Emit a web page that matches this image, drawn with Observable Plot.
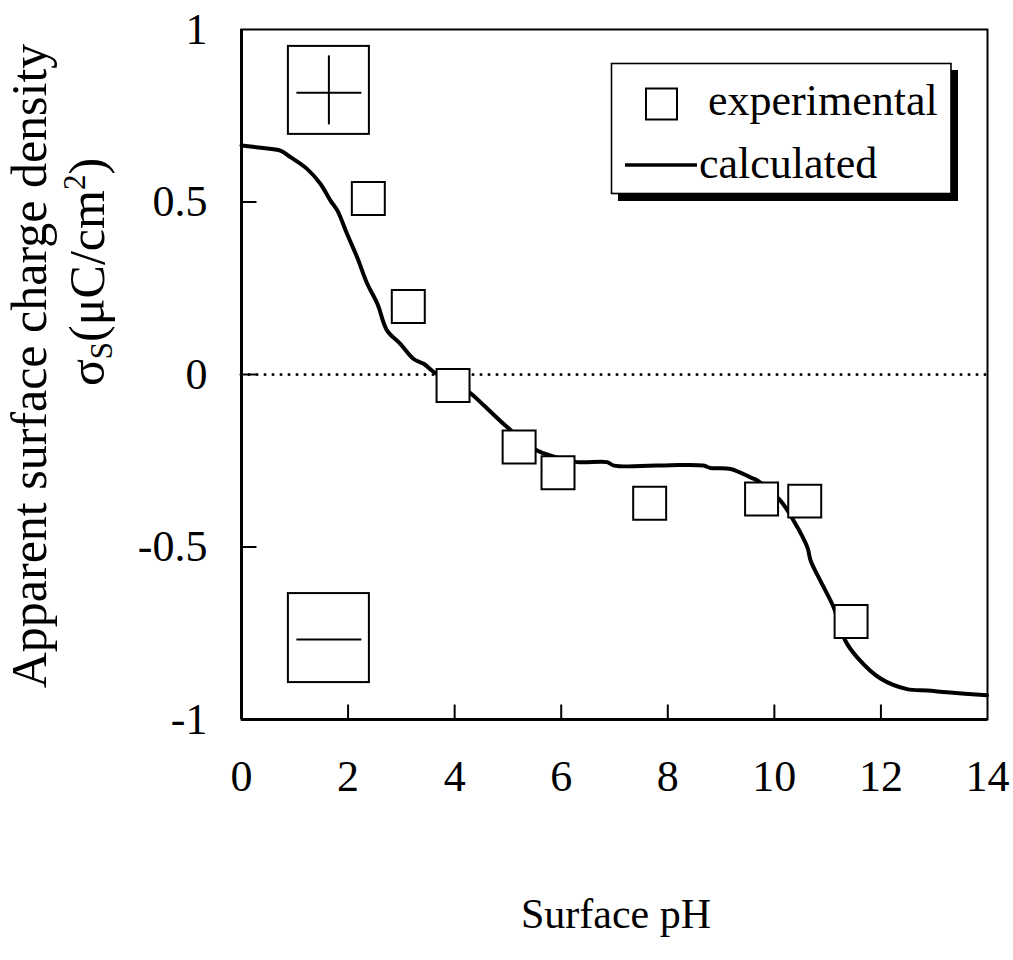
<!DOCTYPE html>
<html><head><meta charset="utf-8">
<script src="https://cdn.jsdelivr.net/npm/d3@7"></script>
<script src="https://cdn.jsdelivr.net/npm/@observablehq/plot@0.6"></script>
<style>
body{margin:0;background:#fff}
svg{font-family:"Liberation Serif","Times New Roman",serif}
</style>
</head><body><div id="chart"></div>
<script>
// Experimental points (surface pH, apparent surface charge density)
const expPH    = [2.38, 3.13, 3.97, 5.21, 5.94, 7.66, 9.76, 10.57, 11.44];
const expSigma = [0.51, 0.197, -0.032, -0.21, -0.285, -0.373, -0.361, -0.367, -0.716];

// Calculated curve
const calcPH    = [0, 0.36, 0.73, 0.92, 1.23, 1.48, 1.67, 1.80, 1.98, 2.17, 2.36, 2.55, 2.73, 2.98, 3.23, 3.42, 3.61,
                   4.27, 4.55, 4.99, 5.55, 5.86, 6.30, 6.86, 6.99, 8.24, 8.67, 8.80, 9.18, 9.55, 9.68, 10.11, 10.36,
                   10.62, 10.68, 10.86, 11.11, 11.33, 11.55, 12.0, 12.49, 12.87, 13.24, 13.99];
const calcSigma = [0.664, 0.657, 0.649, 0.630, 0.596, 0.553, 0.504, 0.475, 0.408, 0.340, 0.263, 0.205, 0.128, 0.089, 0.045, 0.031, 0.007,
                   -0.051, -0.090, -0.153, -0.220, -0.238, -0.254, -0.254, -0.264, -0.262, -0.264, -0.271, -0.274, -0.298, -0.307, -0.365, -0.423,
                   -0.501, -0.539, -0.597, -0.674, -0.771, -0.819, -0.882, -0.912, -0.916, -0.921, -0.930];

// Axis ticks and labels
const xTicks = [0, 2, 4, 6, 8, 10, 12, 14];
const xTickLabels = ["0", "2", "4", "6", "8", "10", "12", "14"];
const yTicks = [-1, -0.5, 0, 0.5, 1];
const yTickLabels = ["-1", "-0.5", "0", "0.5", "1"];

const xTitle = "Surface pH";
const yTitle1 = "Apparent surface charge density";
const legendLabels = ["experimental", "calculated"];

// Sign annotation boxes (data units)
const signBoxX1 = [0.88, 0.88];
const signBoxX2 = [2.40, 2.40];
const signBoxY1 = [0.696, -0.893];
const signBoxY2 = [0.951, -0.635];
// sign strokes: "+" horizontal, "+" vertical, "−" horizontal
const signLineX1 = [1.03, 1.64, 1.03];
const signLineX2 = [2.25, 1.64, 2.25];
const signLineY1 = [0.817, 0.725, -0.768];
const signLineY2 = [0.817, 0.925, -0.768];

const expData = expPH.map((x, i) => ({x, y: expSigma[i]}));
const calcData = calcPH.map((x, i) => ({x, y: calcSigma[i]}));
const boxes = signBoxX1.map((_, i) => ({x1: signBoxX1[i], x2: signBoxX2[i], y1: signBoxY1[i], y2: signBoxY2[i]}));
const signLines = signLineX1.map((_, i) => ({x1: signLineX1[i], x2: signLineX2[i], y1: signLineY1[i], y2: signLineY2[i]}));

const TICK = 15;
const tickUp = {draw(ctx) { ctx.moveTo(0, 0); ctx.lineTo(0, -TICK); }};
const tickRight = {draw(ctx) { ctx.moveTo(0, 0); ctx.lineTo(TICK, 0); }};

const W = 1013, H = 960;
const plot = Plot.plot({
  width: W, height: H,
  marginLeft: 241, marginRight: 26, marginTop: 29, marginBottom: 241,
  style: {fontFamily: "'Liberation Serif','Times New Roman',serif", background: "white", color: "black"},
  x: {domain: [0, 14]},
  y: {domain: [-1, 1]},
  marks: [
    Plot.ruleY([0], {stroke: "black", strokeWidth: 3, strokeDasharray: "0 8", strokeLinecap: "round"}),
    Plot.line(calcData, {x: "x", y: "y", curve: "catmull-rom", stroke: "black", strokeWidth: 4, strokeLinejoin: "round", strokeLinecap: "round"}),
    Plot.dot(expData, {x: "x", y: "y", symbol: "square", r: 18.6, fill: "white", stroke: "black", strokeWidth: 2}),
    Plot.rect(boxes, {x1: "x1", x2: "x2", y1: "y1", y2: "y2", fill: "none", stroke: "black", strokeWidth: 2}),
    Plot.link(signLines, {x1: "x1", x2: "x2", y1: "y1", y2: "y2", stroke: "black", strokeWidth: 2}),
    Plot.dot(xTicks.slice(1, -1), {x: d => d, frameAnchor: "bottom", symbol: tickUp, fill: "none", stroke: "black", strokeWidth: 2}),
    Plot.dot(yTicks.slice(1, -1), {y: d => d, frameAnchor: "left", symbol: tickRight, fill: "none", stroke: "black", strokeWidth: 2}),
    Plot.axisX({ticks: xTicks, tickSize: 0, tickPadding: 40, fontSize: 44, label: null,
      tickFormat: d => xTickLabels[xTicks.indexOf(d)]}),
    Plot.axisY({ticks: yTicks, tickSize: 0, tickPadding: 34, fontSize: 44, label: null,
      tickFormat: d => yTickLabels[yTicks.indexOf(d)]}),
    Plot.frame({stroke: "black", strokeWidth: 2}),
    Plot.ruleX([0], {stroke: "black", strokeWidth: 3}),
    Plot.ruleY([-1], {stroke: "black", strokeWidth: 3})
  ]
});

const svg = d3.select(plot);
svg.selectAll("text").attr("fill", "black");

// X title
svg.append("text").attr("x", 616).attr("y", 928).attr("text-anchor", "middle")
  .style("font-size", "42px").attr("fill", "black").text(xTitle);

// Y title (two lines)
svg.append("text").attr("transform", "translate(46,366) rotate(-90)").attr("text-anchor", "middle")
  .style("font-size", "50px").attr("fill", "black").text(yTitle1);
const t2 = svg.append("text").attr("transform", "translate(104,272) rotate(-90)").attr("text-anchor", "middle")
  .style("font-size", "50px").attr("fill", "black");
t2.append("tspan").text("σ");
t2.append("tspan").attr("dy", 8).style("font-size", "31px").text("S");
t2.append("tspan").attr("dy", -8).text("(μC/cm");
t2.append("tspan").attr("dy", -19).style("font-size", "31px").text("2");
t2.append("tspan").attr("dy", 19).text(")");

// Legend
const lg = svg.append("g").attr("text-anchor", "start");
lg.append("rect").attr("x", 618).attr("y", 70).attr("width", 340).attr("height", 131).attr("fill", "black");
lg.append("rect").attr("x", 611.5).attr("y", 63.5).attr("width", 339.5).attr("height", 130)
  .attr("fill", "white").attr("stroke", "black").attr("stroke-width", 1.6);
lg.append("rect").attr("x", 646).attr("y", 88.5).attr("width", 31).attr("height", 31)
  .attr("fill", "white").attr("stroke", "black").attr("stroke-width", 2);
lg.append("text").attr("x", 708).attr("y", 115).attr("text-anchor", "start").style("font-size", "44px").attr("fill", "black").text(legendLabels[0]);
lg.append("line").attr("x1", 625).attr("x2", 697).attr("y1", 165).attr("y2", 165)
  .attr("stroke", "black").attr("stroke-width", 3.5);
lg.append("text").attr("x", 699).attr("y", 178).attr("text-anchor", "start").style("font-size", "44px").attr("fill", "black").text(legendLabels[1]);

document.getElementById("chart").appendChild(plot);
</script>
</body></html>
